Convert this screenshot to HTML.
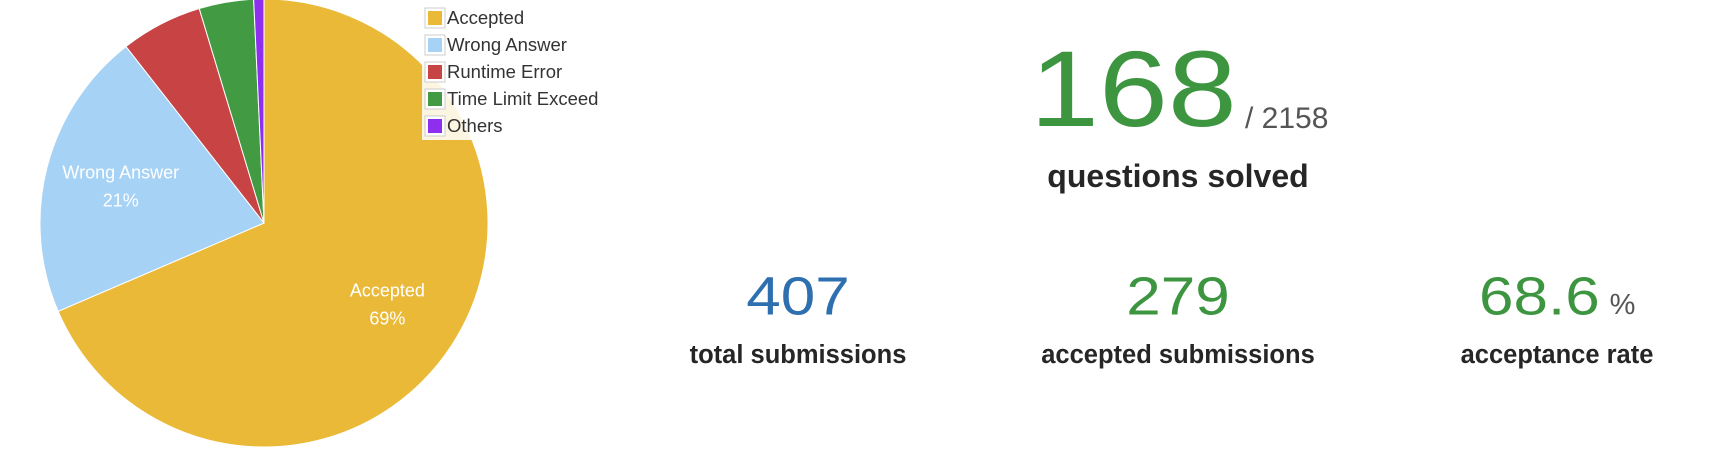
<!DOCTYPE html>
<html><head><meta charset="utf-8"><style>
body{margin:0;width:1711px;height:449px;background:#fff;overflow:hidden;font-family:"Liberation Sans",sans-serif;position:relative}
.t{position:absolute;white-space:nowrap}
.c{transform:translateX(-50%)}
.sy{display:inline-block;transform:scaleY(0.87);transform-origin:50% 85%}
</style></head><body>
<svg id="pie" width="640" height="449" style="position:absolute;left:0;top:0"></svg>
<div class="t" style="left:1030px;top:22px;font-size:124px;color:#3d9540;line-height:124px"><span class="sy">168</span></div>
<div class="t" style="left:1245px;top:102px;font-size:30px;color:#555;line-height:34px">/ 2158</div>
<div class="t c" style="left:1178px;top:157px;font-size:32px;color:#262626;font-weight:700;line-height:38px">questions solved</div>

<div class="t c" style="left:798px;top:259px;font-size:62px;color:#2e6fb0;line-height:70px"><span class="sy">407</span></div>
<div class="t c" style="left:798px;top:340px;font-size:25.5px;font-weight:700;color:#262626;line-height:30px">total submissions</div>
<div class="t c" style="left:1178px;top:259px;font-size:62px;color:#3d9540;line-height:70px"><span class="sy">279</span></div>
<div class="t c" style="left:1178px;top:340px;font-size:25.5px;font-weight:700;color:#262626;line-height:30px">accepted submissions</div>
<div class="t" style="left:1479px;top:259px;font-size:62px;color:#3d9540;line-height:70px"><span class="sy">68.6</span><span style="font-size:29px;color:#555;margin-left:10px">%</span></div>
<div class="t c" style="left:1557px;top:340px;font-size:25.5px;font-weight:700;color:#262626;line-height:30px">acceptance rate</div>
<script>
const categories=["Accepted","Wrong Answer","Runtime Error","Time Limit Exceed","Others"];
const counts=[279,85,24,16,3];
const colors=["#eab937","#a6d2f6","#c84343","#429a43","#8e2ff0"];
const svg=document.getElementById('pie');const NS='http://www.w3.org/2000/svg';
const cx=264,cy=223,r=224;
const total=counts.reduce((a,b)=>a+b,0);
let acc=0;
function pt(f,rr){const a=f*2*Math.PI;return [cx+rr*Math.sin(a),cy-rr*Math.cos(a)];}
counts.forEach((v,i)=>{
 const f0=acc/total,f1=(acc+v)/total;acc+=v;
 const p0=pt(f0,r),p1=pt(f1,r);
 const path=document.createElementNS(NS,'path');
 path.setAttribute('d',`M${cx},${cy}L${p0[0]},${p0[1]}A${r},${r} 0 ${f1-f0>0.5?1:0} 1 ${p1[0]},${p1[1]}Z`);
 path.setAttribute('fill',colors[i]);path.setAttribute('stroke','#fff');path.setAttribute('stroke-width','1');
 
 
 svg.appendChild(path);
 if(f1-f0>0.15){
  const m=pt((f0+f1)/2,r*0.66);
  const pct=Math.round(v/total*100)+'%';
  [[categories[i],-8],[pct,20]].forEach(([s,dy],k)=>{
   const t=document.createElementNS(NS,'text');
   t.setAttribute('x',m[0]);t.setAttribute('y',m[1]+dy);t.setAttribute('fill','#fff');
   t.setAttribute('font-size','18');t.setAttribute('text-anchor','middle');
   t.setAttribute('font-family','Liberation Sans, sans-serif');t.textContent=s;
   
   
   svg.appendChild(t);
  });
 }
});
const lg=document.createElementNS(NS,'rect');
lg.setAttribute('x',422);lg.setAttribute('y',5);lg.setAttribute('width',186);lg.setAttribute('height',135);lg.setAttribute('fill','rgba(255,255,255,0.85)');


svg.appendChild(lg);
categories.forEach((c,i)=>{
 const y=18+i*27;
 const g=document.createElementNS(NS,'g');
 
 
 g.innerHTML=`<rect x="425" y="${y-10}" width="20" height="20" fill="#fff" stroke="#ccc"/><rect x="428" y="${y-7}" width="14" height="14" fill="${colors[i]}"/><text x="447" y="${y+6}" font-size="18.5" fill="#333" font-family="Liberation Sans, sans-serif">${c}</text>`;
 svg.appendChild(g);
});
</script>
</body></html>
